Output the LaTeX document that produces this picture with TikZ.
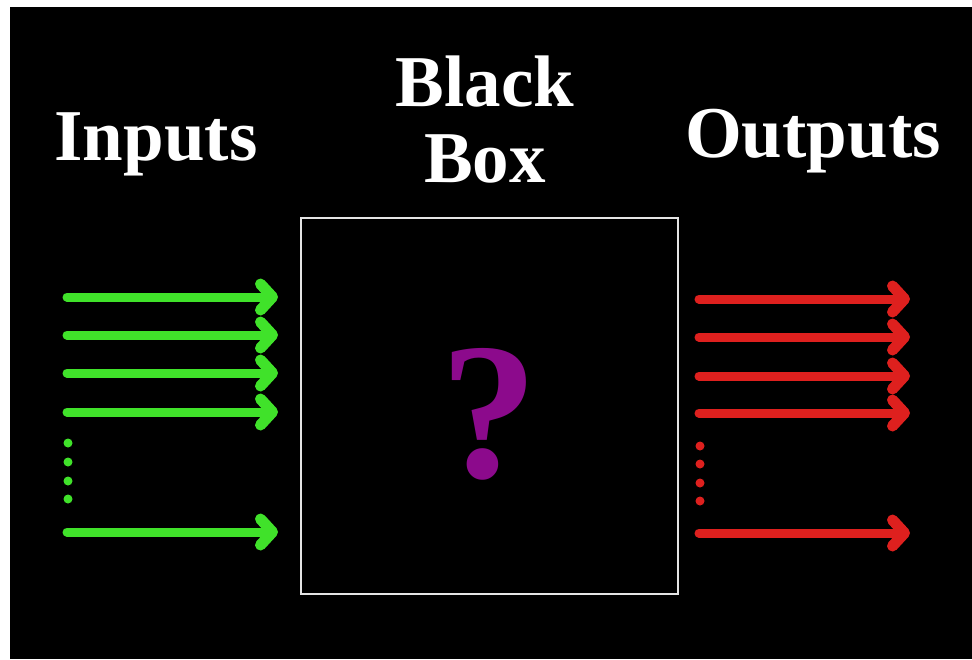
\documentclass[tikz,border=0pt]{standalone}
\usepackage{fontspec}
\setmainfont{Liberation Serif}
\usetikzlibrary{arrows.meta}
\definecolor{bbgreen}{RGB}{64,226,42}
\definecolor{bbred}{RGB}{222,32,30}
\definecolor{bbpurple}{RGB}{140,10,140}
\definecolor{bbframe}{RGB}{228,228,228}
\tikzset{
  title/.style={text=white, font=\bfseries\fontsize{73}{76}\selectfont, inner sep=0pt, align=center},
  flow/.style={-{Straight Barb[length=12pt,width=26pt,line width=11pt 0,round]}, line width=9pt, line cap=round},
  inarr/.style={flow, bbgreen},
  outarr/.style={flow, bbred},
}
\begin{document}
\begin{tikzpicture}[x=1pt,y=-1pt]
  \fill[white] (0,0) rectangle (972,659);
  \fill[black] (10,7) rectangle (972,659);
  \useasboundingbox (0,0) rectangle (972,659);
  % titles
  \node[title, anchor=base] (inputs) at (156,160) {Inputs};
  \node[title] (blackbox) at (485,120) {Black\\Box};
  \node[title, anchor=base] (outputs) at (813,157) {Outputs};
  % the box
  \node[draw=bbframe, line width=2pt, minimum width=377pt, minimum height=376pt, inner sep=0pt] (box) at (489.5,406) {};
  \node[text=bbpurple, font=\bfseries\fontsize{195}{195}\selectfont, inner sep=0pt, anchor=base] (qmark) at (489,477) {?};
  % inputs
  \foreach \i/\y in {1/297,2/335,3/373,4/412,5/532} {
    \coordinate (in\i) at (67,\y);
    \coordinate (intip\i) at (278,\y);
    \draw[inarr] (in\i) -- (intip\i);
  }
  \foreach \y in {443,462,481,499}
    \fill[bbgreen] (68,\y) circle (4.5pt);
  % outputs
  \foreach \i/\y in {1/299,2/337,3/376,4/413,5/533} {
    \coordinate (out\i) at (699,\y);
    \coordinate (outtip\i) at (910,\y);
    \draw[outarr] (out\i) -- (outtip\i);
  }
  \foreach \y in {446,464,483,501}
    \fill[bbred] (700,\y) circle (4.5pt);
\end{tikzpicture}
\end{document}
